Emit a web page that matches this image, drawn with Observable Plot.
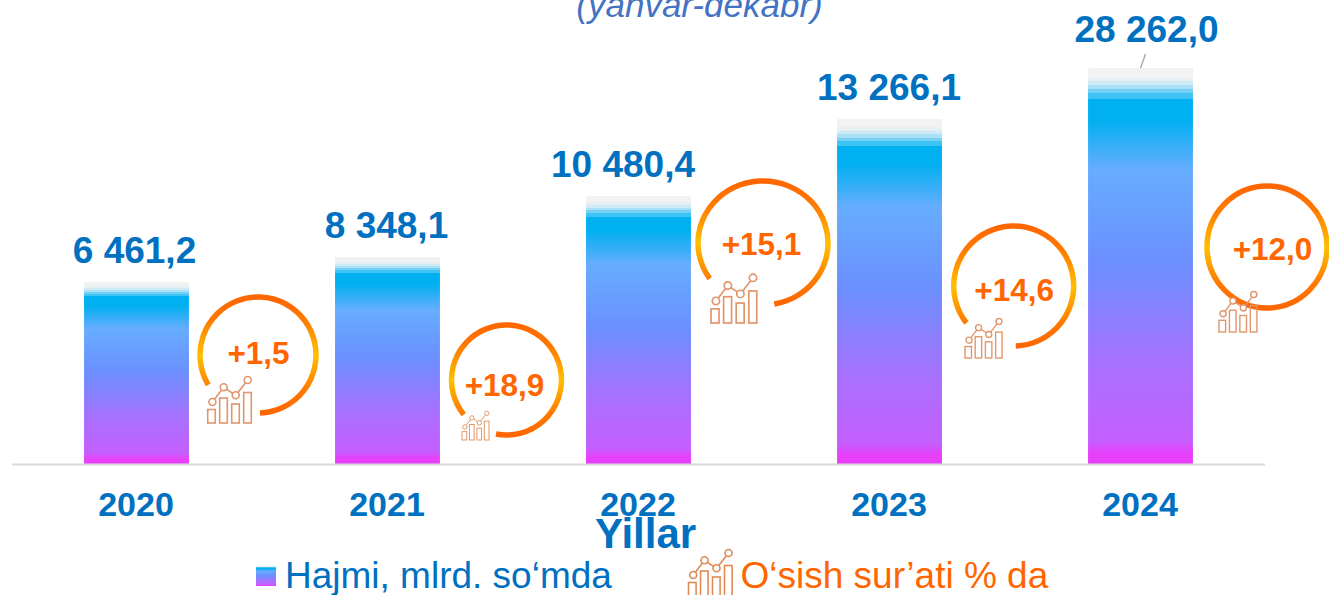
<!DOCTYPE html>
<html><head><meta charset="utf-8">
<script src="https://cdn.jsdelivr.net/npm/d3@7"></script>
<script src="https://cdn.jsdelivr.net/npm/@observablehq/plot@0.6"></script>
<style>html,body{margin:0;padding:0;background:#fff;overflow:hidden}svg{display:block;font-family:"Liberation Sans",Arial,sans-serif}</style>
</head><body><div id="chart"></div>
<script>
const years = ["2020","2021","2022","2023","2024"];
const volumes = [6461.2, 8348.1, 10480.4, 13266.1, 28262.0];
const volumeLabels = ["6 461,2","8 348,1","10 480,4","13 266,1","28 262,0"];
const growth = ["+1,5","+18,9","+15,1","+14,6","+12,0"];
const subtitle = "(yanvar-dekabr)";
const xTitle = "Yillar";
const legendVolume = "Hajmi, mlrd. so‘mda";
const legendGrowth = "O‘sish sur’ati % da";

// Layout of the decorations (pixels), kept apart from the data
const labelDx = [-2.5,-1.5,-16,-1,5.5];
const labelDy = [-31,-31,-31,-31,-38];
const rings = [
 {cx:258,cy:355,rx:58,ry:58,gap:[178,239],ix:207.7,iy:423,s:1,tx:258,ty:353},
 {cx:506.5,cy:380,rx:55,ry:55,gap:[191,231],ix:462,iy:440,s:.62,tx:504,ty:385},
 {cx:763,cy:243,rx:65,ry:62,gap:[170,235],ix:711,iy:323,s:1.05,tx:761,ty:244},
 {cx:1013.7,cy:286,rx:60,ry:60,gap:[178,232],ix:965,iy:358,s:.85,tx:1013.7,ty:290},
 {cx:1267,cy:247,rx:60,ry:61,gap:null,ix:1219,iy:332,s:.87,tx:1272,ty:249}
];
const barStops = [[0,"#f2f2f2"],[2.4,"#f2f2f2"],[2.4,"#e6eff3"],[3.4,"#e6eff3"],[3.4,"#cfeaf5"],[4.4,"#cfeaf5"],[4.4,"#a9e0f5"],[5.4,"#a9e0f5"],[5.4,"#74d1f5"],[6.4,"#74d1f5"],[6.4,"#3ec3f3"],[7.8,"#3ec3f3"],[7.8,"#00b0f0"],[13,"#00b0f0"],[25.5,"#66adff"],[50,"#6c8eff"],[75,"#a870ff"],[94,"#c45fff"],[97.5,"#e83ffb"],[100,"#e83ffb"]];

const rows = years.map((year,i)=>({year,value:volumes[i],label:volumeLabels[i]}));

function icon(g,x,y,s,col="#e0956a"){
  const ic = g.append("g").attr("transform",`translate(${x},${y}) scale(${s})`)
    .attr("fill","none").attr("stroke",col).attr("stroke-width",1.6);
  [[0,13.5],[12,25],[24,19],[36,30.5]].forEach(([bx,h])=>ic.append("rect").attr("x",bx).attr("y",-h).attr("width",7.6).attr("height",h));
  const pts=[[4.7,-21],[16,-35.7],[28,-27.7],[40,-43]];
  ic.append("path").attr("d",d3.line()(pts));
  pts.forEach(([cx,cy])=>ic.append("circle").attr("cx",cx).attr("cy",cy).attr("r",3.5).attr("fill","#fff"));
}
function decorations(index,scales,values,dims,context){
  const svg=d3.select(context.document.createElementNS("http://www.w3.org/2000/svg","g"));
  const defs=svg.append("defs");
  const bg=defs.append("linearGradient").attr("id","barGrad").attr("x1",0).attr("x2",0).attr("y1",0).attr("y2",1);
  barStops.forEach(([o,c])=>bg.append("stop").attr("offset",o+"%").attr("stop-color",c));
  rings.forEach((r,i)=>{
    const lg=defs.append("linearGradient").attr("id","ring"+i).attr("gradientUnits","userSpaceOnUse")
      .attr("x1",0).attr("x2",0).attr("y1",r.cy-r.ry).attr("y2",r.cy+r.ry);
    [[0,"#ff6600"],[20,"#ff7a00"],[50,"#ffc000"],[80,"#ff7a00"],[100,"#ff6600"]].forEach(([o,c])=>lg.append("stop").attr("offset",o+"%").attr("stop-color",c));
    const rad=a=>a*Math.PI/180, p=a=>[r.cx+r.rx*Math.sin(rad(a)),r.cy-r.ry*Math.cos(rad(a))];
    let d;
    if(r.gap){const [e,b]=r.gap,s=p(b),t=p(e+360);d=`M${s}A${r.rx},${r.ry} 0 1 1 ${t}`;}
    else d=`M${r.cx-r.rx},${r.cy}A${r.rx},${r.ry} 0 1 1 ${r.cx+r.rx},${r.cy}A${r.rx},${r.ry} 0 1 1 ${r.cx-r.rx},${r.cy}`;
    svg.append("path").attr("d",d).attr("fill","none").attr("stroke",`url(#ring${i})`).attr("stroke-width",5.5);
    icon(svg,r.ix,r.iy,r.s);
  });
  // legend swatch and icon
  svg.append("rect").attr("x",256).attr("y",566).attr("width",20).attr("height",20).attr("fill","url(#barGrad)");
  icon(svg,688.5,596,1,"#e08a55");
  // leader line for the last label
  const b=scales.x.bandwidth, bw=typeof b==="function"?b():(b??105);
  const tx=scales.x("2024")+bw/2, ty=scales.y(28262);
  svg.append("line").attr("x1",tx).attr("y1",ty).attr("x2",tx+5).attr("y2",ty-14).attr("stroke","#a6a6a6").attr("stroke-width",1.3);
  return svg.node();
}
const chart = Plot.plot({
  width:1329,height:595,margin:0,
  style:{background:"#fff",fontFamily:'"Liberation Sans",Arial,sans-serif',overflow:"visible"},
  x:{type:"band",domain:years,range:[11,1266],paddingInner:0.582,paddingOuter:0.291,round:false,label:null},
  y:{type:"linear",domain:[0,...volumes],range:[464,282,257,196,119,68],axis:null,label:null},
  marks:[
    Plot.barY(rows,{x:"year",y:"value",fill:"url(#barGrad)"}),
    Plot.ruleY([0],{stroke:"#d9d9d9",strokeWidth:2,insetLeft:12,insetRight:64}),
    decorations,
    Plot.axisX({tickSize:0,tickPadding:0,fontSize:34,fontWeight:"bold",fill:"#0070c0",anchor:"bottom",labelAnchor:"center",label:null,dx:-1,dy:-104}),
    ...rows.map((d,i)=>Plot.text([d],{x:"year",y:"value",text:"label",dx:labelDx[i],dy:labelDy[i],fontSize:37,fontWeight:"bold",fill:"#0070c0"})),
    ...rings.map((r,i)=>Plot.text([growth[i]],{frameAnchor:"top-left",dx:r.tx,dy:r.ty,fontSize:31.5,fontWeight:"bold",fill:"#ff6600",textAnchor:"middle",lineAnchor:"middle"})),
    Plot.text([subtitle],{frameAnchor:"top-left",dx:699,dy:5,fontSize:35,fontStyle:"italic",fill:"#4472c4",textAnchor:"middle",lineAnchor:"middle"}),
    Plot.text([xTitle],{frameAnchor:"top-left",dx:645,dy:534,fontSize:42,fontWeight:"bold",fill:"#0070c0",textAnchor:"middle",lineAnchor:"middle"}),
    Plot.text([legendVolume],{frameAnchor:"top-left",dx:284.5,dy:576,fontSize:37,fill:"#0070c0",textAnchor:"start",lineAnchor:"middle"}),
    Plot.text([legendGrowth],{frameAnchor:"top-left",dx:740,dy:576,fontSize:37,fill:"#ff6600",textAnchor:"start",lineAnchor:"middle"})
  ]
});
document.getElementById("chart").append(chart);
</script></body></html>
